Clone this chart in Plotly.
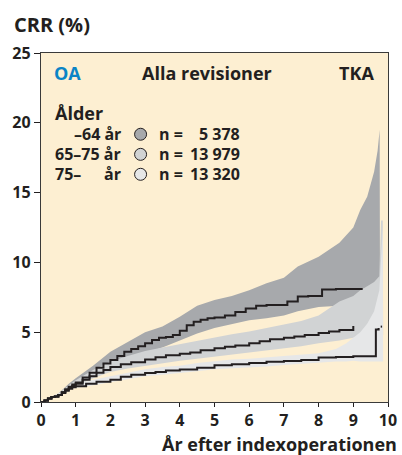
import plotly.graph_objects as go

# Kaplan-Meier style cumulative revision rate (%) per age group
t_64 = [0, 0.1, 0.2, 0.3, 0.4, 0.5, 0.6, 0.7, 0.8, 0.9, 1.0, 1.2, 1.4, 1.6, 1.8, 2.0, 2.2, 2.4, 2.6, 2.8,
        3.0, 3.2, 3.4, 3.6, 3.8, 4.0, 4.2, 4.4, 4.6, 4.8, 5.0, 5.3, 5.6, 5.9, 6.2, 6.5, 6.8, 7.1, 7.4, 7.7,
        8.1, 8.5, 9.27]
crr_64 = [0, 0.1, 0.25, 0.35, 0.4, 0.5, 0.7, 0.9, 1.1, 1.25, 1.4, 1.75, 2.1, 2.45, 2.75, 3.0, 3.3, 3.6, 3.8, 4.0,
          4.2, 4.45, 4.6, 4.65, 4.8, 5.1, 5.5, 5.75, 5.9, 6.0, 6.05, 6.2, 6.45, 6.7, 6.9, 6.95, 6.95, 7.2, 7.55, 7.6,
          8.05, 8.1, 8.1]
band_t_64 = [0, 0.5, 0.8, 1.0, 1.5, 2.0, 2.5, 3.0, 3.5, 4.0, 4.5, 5.0, 5.5, 6.0, 6.5, 7.0, 7.4, 8.0, 8.6,
             9.0, 9.2, 9.4, 9.6, 9.7, 9.76, 9.77]
lo_64 = [0, 0.4, 0.9, 1.2, 1.9, 2.5, 3.0, 3.5, 3.9, 4.4, 4.9, 5.3, 5.6, 5.85, 6.0, 6.2, 6.5, 6.8, 6.9,
         6.9, 6.9, 6.9, 6.9, 6.9, 6.9, 6.9]
hi_64 = [0, 0.6, 1.3, 1.7, 2.6, 3.6, 4.3, 5.0, 5.4, 6.1, 6.9, 7.3, 7.6, 8.0, 8.5, 8.9, 9.7, 10.4, 11.4,
         12.5, 13.75, 14.7, 16.5, 18.0, 19.5, 6.9]

t_6575 = [0, 0.1, 0.2, 0.3, 0.4, 0.5, 0.6, 0.7, 0.8, 0.9, 1.0, 1.2, 1.4, 1.6, 1.8, 2.0, 2.3, 2.6, 3.0, 3.3,
          3.6, 4.0, 4.3, 4.6, 5.0, 5.3, 5.6, 6.0, 6.3, 6.6, 7.0, 7.3, 7.6, 8.0, 8.3, 8.6, 9.0]
crr_6575 = [0, 0.1, 0.25, 0.35, 0.4, 0.5, 0.7, 0.9, 1.05, 1.15, 1.3, 1.6, 1.85, 2.1, 2.3, 2.5, 2.7, 2.85, 3.05, 3.2,
            3.35, 3.45, 3.55, 3.7, 3.85, 3.95, 4.05, 4.2, 4.35, 4.5, 4.6, 4.7, 4.8, 4.95, 5.05, 5.15, 5.45]
band_t_6575 = [0, 0.5, 0.8, 1.0, 1.5, 2.0, 2.5, 3.0, 3.5, 4.0, 4.5, 5.0, 5.5, 6.0, 6.5, 7.0, 7.5, 8.0, 8.3,
               8.6, 9.0, 9.2, 9.4, 9.6, 9.75, 9.8, 9.85, 9.86]
lo_6575 = [0, 0.4, 0.9, 1.1, 1.7, 2.15, 2.4, 2.6, 2.8, 2.95, 3.1, 3.25, 3.4, 3.5, 3.65, 3.85, 4.0, 4.2, 4.3,
           4.4, 4.6, 4.7, 4.75, 4.8, 4.8, 4.8, 4.8, 4.8]
hi_6575 = [0, 0.6, 1.2, 1.55, 2.3, 2.9, 3.3, 3.65, 3.9, 4.15, 4.4, 4.65, 4.85, 5.05, 5.3, 5.55, 5.8, 6.2, 6.7,
           7.2, 7.6, 8.0, 8.3, 8.6, 9.0, 13.0, 13.0, 4.8]

t_75 = [0, 0.1, 0.2, 0.3, 0.4, 0.5, 0.6, 0.7, 0.8, 0.9, 1.0, 1.3, 1.6, 2.0, 2.3, 2.6, 3.0, 3.3, 3.6, 4.0,
        4.5, 5.0, 5.5, 6.0, 6.5, 7.0, 7.5, 8.0, 8.5, 9.0, 9.6, 9.65, 9.73, None, 9.79, 9.83]
crr_75 = [0, 0.1, 0.25, 0.35, 0.4, 0.5, 0.65, 0.8, 0.95, 1.05, 1.12, 1.3, 1.45, 1.6, 1.8, 1.95, 2.08, 2.15, 2.25, 2.32,
          2.45, 2.63, 2.7, 2.8, 2.88, 2.94, 3.0, 3.18, 3.22, 3.28, 3.28, 5.2, 5.3, None, 5.4, 5.4]
band_t_75 = [0, 0.5, 0.8, 1.0, 1.5, 2.0, 2.5, 3.0, 3.5, 4.0, 4.5, 5.0, 5.5, 6.0, 6.5, 7.0, 7.5, 8.0, 8.5,
             8.8, 9.0, 9.2, 9.4, 9.6, 9.75, 9.85, 9.86]
lo_75 = [0, 0.4, 0.85, 1.0, 1.2, 1.4, 1.65, 1.85, 1.95, 2.05, 2.2, 2.35, 2.4, 2.5, 2.55, 2.65, 2.75, 2.85, 2.9,
         2.9, 2.95, 2.9, 2.9, 2.9, 2.9, 2.9, 2.9]
hi_75 = [0, 0.6, 1.05, 1.25, 1.6, 1.85, 2.1, 2.35, 2.5, 2.6, 2.8, 2.95, 3.05, 3.1, 3.2, 3.25, 3.35, 3.5, 3.8,
         4.2, 4.6, 5.0, 5.6, 6.5, 8.0, 12.5, 2.9]

age_labels = ["\u201364 år", "65\u201375 år", "75\u2013"]
n_labels = ["5 378", "13 979", "13 320"]

FONT = "Open Sans"
INK = "#231f20"
BAND = ["#a7a9ac", "#d1d3d4", "#e6e7e8"]

groups = [
    (band_t_64, lo_64, hi_64, t_64, crr_64),
    (band_t_6575, lo_6575, hi_6575, t_6575, crr_6575),
    (band_t_75, lo_75, hi_75, t_75, crr_75),
]

fig = go.Figure()

# confidence bands, darkest first
for (bt, lo, hi, _, _), col in zip(groups, BAND):
    fig.add_trace(go.Scatter(x=bt, y=lo, mode="lines", line=dict(width=0),
                             hoverinfo="skip", showlegend=False))
    fig.add_trace(go.Scatter(x=bt, y=hi, mode="lines", line=dict(width=0),
                             fill="tonexty", fillcolor=col, hoverinfo="skip", showlegend=False))

for (_, _, _, t, v) in groups:
    fig.add_trace(go.Scatter(x=t, y=v, mode="lines", line=dict(color=INK, width=2, shape="hv"),
                             showlegend=False))

annots = []


def txt(x, y, s, size=16, anchor="left", color=INK):
    annots.append(dict(x=x, y=y, xref="x", yref="y",
                       text="<b>" + s + "</b>", showarrow=False, xanchor=anchor, yanchor="middle",
                       font=dict(family=FONT, size=size, color=color)))


txt(0.33, 23.55, "OA", size=18, color="#0a84c6")
txt(4.77, 23.55, "Alla revisioner", size=18, anchor="center")
txt(9.65, 23.55, "TKA", size=18, anchor="right")
txt(0.36, 20.7, "Ålder", size=18)

row_y = [19.18, 17.74, 16.31]
shapes = []
for i, y in enumerate(row_y):
    if i < 2:
        txt(2.36, y, age_labels[i], anchor="right")
    else:
        txt(0.36, y, age_labels[i])
        txt(2.36, y, "år", anchor="right")
    txt(3.33, y, "n =")
    txt(5.8, y, n_labels[i], anchor="right")
    shapes.append(dict(type="circle", xref="x", yref="y", xsizemode="pixel", ysizemode="pixel",
                       xanchor=2.87, yanchor=y, x0=-6, x1=6, y0=-6, y1=6,
                       fillcolor=BAND[i], line=dict(color=INK, width=1)))

annots.append(dict(x=-0.085, y=1.081, xref="paper", yref="paper", text="<b>CRR (%)</b>",
                   showarrow=False, xanchor="left", yanchor="middle",
                   font=dict(family=FONT, size=20, color=INK)))
annots.append(dict(x=1.03, y=-0.119, xref="paper", yref="paper", text="<b>År efter indexoperationen</b>",
                   showarrow=False, xanchor="right", yanchor="middle", borderpad=0,
                   font=dict(family=FONT, size=18, color=INK)))

fig.update_layout(
    width=402, height=455,
    margin=dict(l=41, r=14, t=53, b=53),
    paper_bgcolor="white",
    plot_bgcolor="#fdefd2",
    annotations=annots,
    shapes=shapes,
    font=dict(family=FONT, color=INK),
    xaxis=dict(range=[0, 10], tickvals=list(range(11)), showgrid=False, zeroline=False,
               showline=True, linecolor="#3a3a3a", linewidth=1.3, mirror=True, automargin=False,
               ticks="outside", ticklen=4, tickcolor=INK,
               tickfont=dict(family=FONT, size=16, color=INK, weight="bold")),
    yaxis=dict(range=[0, 25], tickvals=[0, 5, 10, 15, 20, 25], showgrid=False, zeroline=False,
               showline=True, linecolor="#3a3a3a", linewidth=1.3, mirror=True, automargin=False,
               ticks="outside", ticklen=6, tickcolor=INK,
               tickfont=dict(family=FONT, size=16, color=INK, weight="bold")),
)

# page margin off so the figure sits at the window's top-left corner
fig.write_html("out.html", config={"displayModeBar": False},
               post_script="document.body.style.margin='0';")
